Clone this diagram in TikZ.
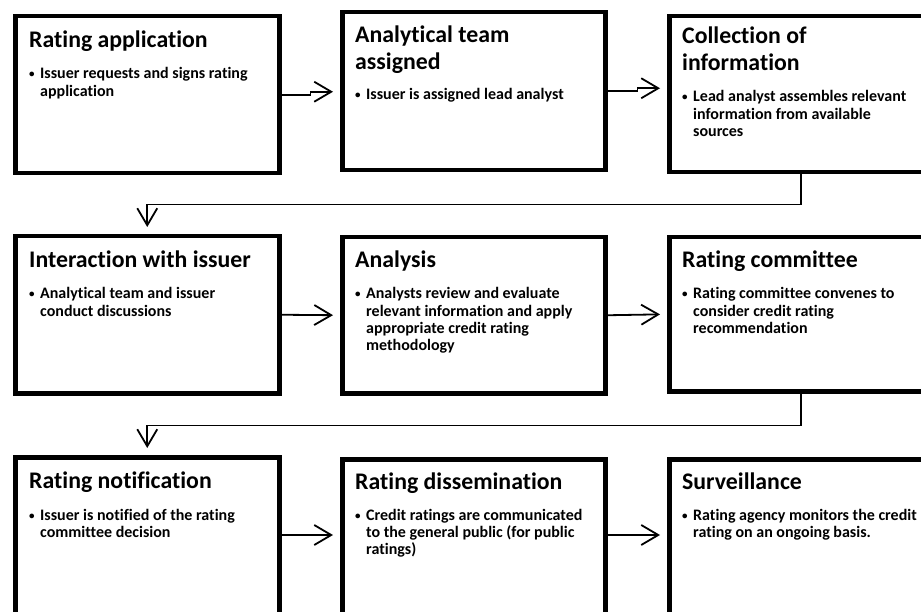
\documentclass[tikz,border=0pt]{standalone}
\usepackage{fontspec}
\setmainfont{Carlito}[Ligatures=NoCommon]
\usetikzlibrary{arrows.meta}
\newcommand{\mylines}[1]{\vtop{\halign{##\hfil\cr #1\crcr}}}
\begin{document}
\begin{tikzpicture}[x=1pt,y=-1pt,
  box/.style={draw, line width=4.5pt, anchor=north west, inner sep=0pt, miter limit=10},
  conn/.style={line width=1.8pt, -{Straight Barb[length=17pt,width=20pt]}, shorten >=7pt},
  ttl/.style={anchor=base west, inner sep=0pt, font=\fontsize{23.8}{27}\selectfont\bfseries},
  bul/.style={anchor=base west, inner sep=0pt, font=\fontsize{11}{17}\selectfont\bfseries},
  btx/.style={anchor=base west, inner sep=0pt, font=\fontsize{16}{17.2}\selectfont\bfseries}]
\useasboundingbox (0,0) rectangle (921,612);
\clip (0,0) rectangle (921,612);
% boxes
\node[box, minimum width=264pt, minimum height=157pt] (b1) at (13,14) {};
\node[box, minimum width=263pt, minimum height=158pt] (b2) at (340,10) {};
\node[box, minimum width=264pt, minimum height=156pt] (b3) at (667,14) {};
\node[box, minimum width=264pt, minimum height=157pt] (b4) at (13,234) {};
\node[box, minimum width=263pt, minimum height=156pt] (b5) at (340,235) {};
\node[box, minimum width=264pt, minimum height=154pt] (b6) at (667,235) {};
\node[box, minimum width=264pt, minimum height=200pt] (b7) at (13,455) {};
\node[box, minimum width=263pt, minimum height=200pt] (b8) at (340,457) {};
\node[box, minimum width=264pt, minimum height=200pt] (b9) at (667,457) {};
% texts
\node[ttl] (t1) at (29,48) {Rating application};
\node[bul] (d1) at (29,78) {•};
\node[btx] (x1) at (40,79) {\mylines{Issuer requests and signs rating\cr application}};
\node[ttl] (t2) at (355,43) {\mylines{Analytical team\cr assigned}};
\node[bul] (d2) at (355,99) {•};
\node[btx] (x2) at (366,100) {\mylines{Issuer is assigned lead analyst}};
\node[ttl] (t3) at (682,44) {\mylines{Collection of\cr information}};
\node[bul] (d3) at (682,101) {•};
\node[btx] (x3) at (693,102) {\mylines{Lead analyst assembles relevant\cr information from available\cr sources}};
\node[ttl] (t4) at (29,268) {Interaction with issuer};
\node[bul] (d4) at (29,298) {•};
\node[btx] (x4) at (40,299) {\mylines{Analytical team and issuer\cr conduct discussions}};
\node[ttl] (t5) at (355,268) {Analysis};
\node[bul] (d5) at (355,298) {•};
\node[btx] (x5) at (366,299) {\mylines{Analysts review and evaluate\cr relevant information and apply\cr appropriate credit rating\cr methodology}};
\node[ttl] (t6) at (682,268) {Rating committee};
\node[bul] (d6) at (682,298) {•};
\node[btx] (x6) at (693,299) {\mylines{Rating committee convenes to\cr consider credit rating\cr recommendation}};
\node[ttl] (t7) at (29,488) {Rating notification};
\node[bul] (d7) at (29,519) {•};
\node[btx] (x7) at (40,520) {\mylines{Issuer is notified of the rating\cr committee decision}};
\node[ttl] (t8) at (355,489) {Rating dissemination};
\node[bul] (d8) at (355,519) {•};
\node[btx] (x8) at (366,520) {\mylines{Credit ratings are communicated\cr to the general public (for public\cr ratings)}};
\node[ttl] (t9) at (682,489) {Surveillance};
\node[bul] (d9) at (682,519) {•};
\node[btx] (x9) at (693,520) {\mylines{Rating agency monitors the credit\cr rating on an ongoing basis.}};
% connectors
\draw[conn] (b1.east) -- ++(29,0) -- ++(0,-3) coordinate (j1) -- (j1 -| b2.west);
\draw[conn] (b2.east) -- ++(30,0) -- ++(0,-3) coordinate (j2) -- (j2 -| b3.west);
\draw[conn] (b3.south) -- ++(0,30) -| (b4.north);
\draw[conn] (b4.east) -- (b5.west);
\draw[conn] (b5.east) -- (b6.west);
\draw[conn] (b6.south) -- ++(0,32) -| (b7.north);
\draw[conn] ([yshift=-80pt]b7.north east) -- ([yshift=-78pt]b8.north west);
\draw[conn] ([yshift=-78pt]b8.north east) -- ([yshift=-78pt]b9.north west);
\end{tikzpicture}
\end{document}
